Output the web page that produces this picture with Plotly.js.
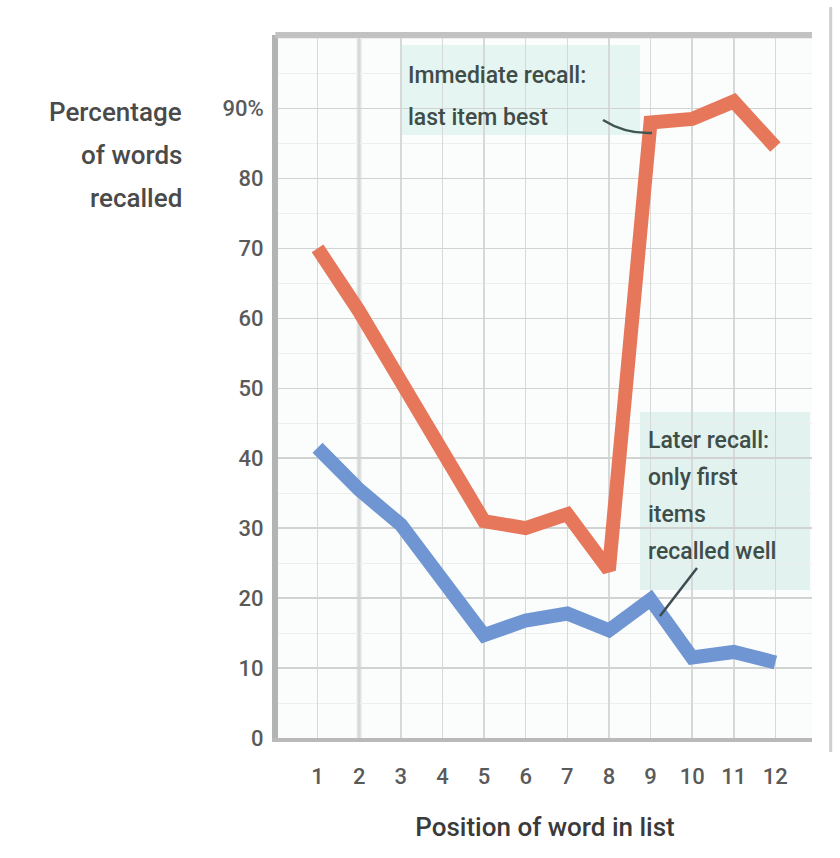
<!DOCTYPE html>
<html>
<head>
<meta charset="utf-8">
<script src="https://cdn.plot.ly/plotly-3.0.1.min.js"></script>
<style>html,body{margin:0;padding:0;background:#fff;}#chart{width:840px;height:858px;}</style>
</head>
<body>
<div id="chart"></div>
<script>
const positions = [1,2,3,4,5,6,7,8,9,10,11,12];
const positionLabels = ["1","2","3","4","5","6","7","8","9","10","11","12"];
const immediateRecall = [70,61,51,41,31,30,32,24,88,88.5,91,84.5];
const laterRecall = [41.5,35.5,30.5,23,14.7,16.8,17.8,15.4,19.8,11.5,12.3,10.8];
const yTickVals = [0,10,20,30,40,50,60,70,80,90];
const yTickText = ["0","10","20","30","40","50","60","70","80","90%"];
const yTitleLines = ["Percentage","of words","recalled"];
const immediateNote = ["Immediate recall:","last item best"];
const laterNote = ["Later recall:","only first","items","recalled well"];

const FONT = "Roboto, Liberation Sans, sans-serif";
const py = p => (738 - p) / 703;   // pixel row -> paper fraction
const px = p => (p - 278) / 534;

const traces = [
  {x: positions, y: immediateRecall, type: "scatter", mode: "lines",
   line: {color: "#E6775A", width: 14}, hoverinfo: "skip", name: "Immediate recall"},
  {x: positions, y: laterRecall, type: "scatter", mode: "lines",
   line: {color: "#6F95D3", width: 14}, hoverinfo: "skip", name: "Later recall"}
];

const noteFont = sz => ({family: FONT, size: sz, color: "#3f4d49", weight: 500});
const anns = [];
yTitleLines.forEach((t, i) => anns.push({
  xref: "paper", yref: "paper", x: px(184), y: py(112 + i * 43),
  xanchor: "right", yanchor: "middle", showarrow: false, text: t,
  font: {family: FONT, size: 26, color: "#4a4a4a", weight: 500}
}));
immediateNote.forEach((t, i) => anns.push({
  xref: "paper", yref: "paper", x: px(406), y: py(76 + i * 41),
  xanchor: "left", yanchor: "middle", showarrow: false, text: t, font: noteFont(23)
}));
laterNote.forEach((t, i) => anns.push({
  xref: "paper", yref: "paper", x: px(646), y: py(440 + i * 37),
  xanchor: "left", yanchor: "middle", showarrow: false, text: t, font: noteFont(23)
}));

const layout = {
  width: 840, height: 858,
  margin: {l: 278, r: 28, t: 35, b: 120},
  paper_bgcolor: "#ffffff",
  plot_bgcolor: "#fbfdfc",
  showlegend: false,
  font: {family: FONT, color: "#555", size: 18},
  xaxis: {
    range: [0.05, 12.88],
    tickvals: positions, ticktext: positionLabels,
    showgrid: true, gridcolor: "#d6d9d8", gridwidth: 1.5,
    zeroline: false, showline: true, linecolor: "#b9b9b9", linewidth: 4,
    ticks: "", ticklabelstandoff: 16,
    tickfont: {family: FONT, size: 22, color: "#5a5a5a", weight: 500},
    title: {text: "Position of word in list", font: {family: FONT, size: 26, color: "#3a3a3a", weight: 500}, standoff: 30}
  },
  yaxis: {
    range: [0, 100.5],
    tickvals: yTickVals, ticktext: yTickText,
    showgrid: true, gridcolor: "#d0d3d2", gridwidth: 1.5,
    minor: {dtick: 5, showgrid: true, gridcolor: "#ecefee", gridwidth: 1},
    zeroline: false, showline: true, linecolor: "#b3b3b3", linewidth: 6,
    ticks: "", ticklabelstandoff: 4,
    tickfont: {family: FONT, size: 22, color: "#5a5a5a", weight: 500}
  },
  shapes: [
    {type: "line", xref: "paper", yref: "paper", x0: -0.005, x1: 1.0, y0: 1.0, y1: 1.0,
     line: {color: "#c2c2c2", width: 6}},
    {type: "line", xref: "x", yref: "paper", x0: 2, x1: 2, y0: 0, y1: 1,
     line: {color: "#e2e4e3", width: 5}, layer: "below"},
    {type: "line", xref: "paper", yref: "paper", x0: 1.035, x1: 1.035, y0: -0.02, y1: 1.04,
     line: {color: "#cfcfcf", width: 3}},
    {type: "rect", xref: "paper", yref: "paper", x0: px(400), x1: px(640), y0: py(135), y1: py(45),
     fillcolor: "rgba(225,243,239,0.85)", line: {width: 0}, layer: "below"},
    {type: "rect", xref: "paper", yref: "paper", x0: px(640), x1: px(810), y0: py(590), y1: py(412),
     fillcolor: "rgba(222,241,237,0.9)", line: {width: 0}, layer: "below"},
    {type: "path", xref: "paper", yref: "paper",
     path: "M " + px(603) + " " + py(120) + " Q " + px(625) + " " + py(134) + " " + px(652) + " " + py(133),
     line: {color: "#3e5550", width: 2.5}},
    {type: "line", xref: "paper", yref: "paper", x0: px(697), x1: px(660), y0: py(568), y1: py(616),
     line: {color: "#3e4a52", width: 2.5}}
  ],
  annotations: anns
};

Plotly.newPlot("chart", traces, layout, {staticPlot: true, displayModeBar: false});
</script>
</body>
</html>
